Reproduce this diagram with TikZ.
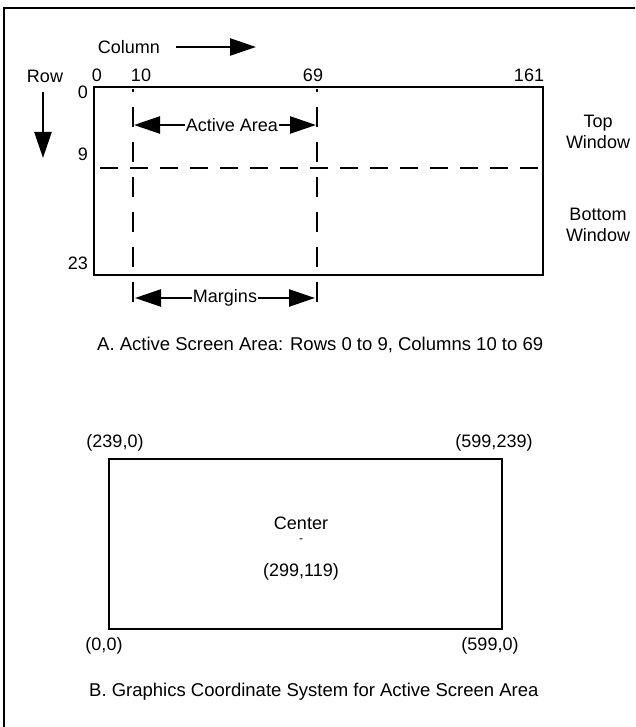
\documentclass[tikz,border=0pt]{standalone}
\usepackage{fontspec}
\setmainfont{Liberation Sans}
\usetikzlibrary{arrows.meta}
\begin{document}
\begin{tikzpicture}[x=1pt, y=-1pt, every node/.style={font=\fontsize{18}{21}\selectfont, inner sep=1pt},
  frame/.style={line width=2.8pt},
  screen/.style={draw, line width=2.8pt},
  caption/.style={anchor=west, font=\fontsize{18.5}{21}\selectfont},
  vgrid/.style={line width=2.4pt, dash pattern=on 20pt off 15pt, dash phase=17pt},
  hgrid/.style={line width=2.4pt, dash pattern=on 18pt off 12pt},
  bigarrow/.style={-{Triangle[length=26pt,width=17pt]}, line width=2.4pt}]
  \useasboundingbox (0,0) rectangle (635,727);
  % outer frame
  \draw[frame] (3,8) -- (635,8);
  \draw[frame] (4,8) -- (4,727);
  % A: screen layout
  \draw[screen] (94,87) rectangle (543,275);
  \coordinate (c10top) at (133,89);  \coordinate (c10bot) at (133,304);
  \coordinate (c69top) at (317,89);  \coordinate (c69bot) at (317,304);
  \coordinate (r9left) at (100,168); \coordinate (r9right) at (543,168);
  \draw[vgrid] (c10top) -- (c10bot);
  \draw[vgrid] (c69top) -- (c69bot);
  \draw[hgrid] (r9left) -- (r9right);
  % column and row headings
  \node (colhead) at (129,47) {Column};
  \coordinate (colend) at (256,47);
  \draw[bigarrow] (colhead.east) ++(15,0) coordinate (colstart) (colstart) -- (colend);
  \node (rowhead) at (45,76) {Row};
  \coordinate (rowstart) at (43,92); \coordinate (rowend) at (43,158);
  \draw[bigarrow] (rowstart) -- (rowend);
  \node (col0) at (97,75) {0};
  \node (col10) at (141,75) {10};
  \node (col69) at (313,75) {69};
  \node (col161) at (529,75) {161};
  \node[anchor=east] (row0) at (89,92) {0};
  \node[anchor=east] (row9) at (89,154) {9};
  \node[anchor=east] (row23) at (89,263) {23};
  % active area and margins
  \node (active) at (232,125) {Active Area};
  \coordinate (aleft) at (134,125); \coordinate (aright) at (316,125);
  \draw[bigarrow] (active.west) -- (aleft);
  \draw[bigarrow] (active.east) -- (aright);
  \node (margins) at (225,298) {Margins};
  \coordinate (mleft) at (135,298); \coordinate (mright) at (315,298);
  \draw[bigarrow] (margins.west) -- (mleft);
  \draw[bigarrow] (margins.east) -- (mright);
  % windows
  \node[align=center] (topwin) at (598,132) {Top\\Window};
  \node[align=center] (botwin) at (598,225) {Bottom\\Window};
  \node[caption] (capA) at (96,345) {A. Active Screen Area: Rows 0 to 9, Columns 10 to 69};
  % B: graphics coordinates
  \draw[screen] (109,459) rectangle (502,629);
  \node (ul) at (115,443) {(239,0)};
  \node (ur) at (494,443) {(599,239)};
  \node (center) at (301,523) {Center};
  \node[font=\fontsize{12}{12}\selectfont] (cmark) at (301,541) {-};
  \node (cxy) at (301,572) {(299,119)};
  \node (ll) at (104,646) {(0,0)};
  \node (lr) at (490,646) {(599,0)};
  \node[caption] (capB) at (88,692) {B. Graphics Coordinate System for Active Screen Area};
\end{tikzpicture}
\end{document}
